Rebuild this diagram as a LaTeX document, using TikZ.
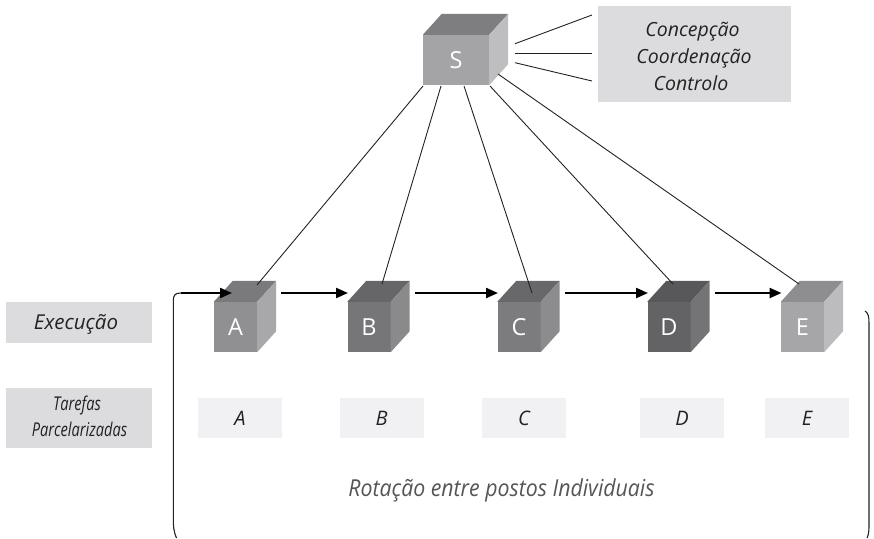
\documentclass[tikz,border=0pt]{standalone}
\usepackage{fontspec}
\setmainfont{Open Sans}
\usetikzlibrary{arrows.meta,calc}
\definecolor{boxgray}{HTML}{DCDCDE}
\definecolor{boxlight}{HTML}{F1F1F3}
\definecolor{ink}{HTML}{222222}
\definecolor{rotgray}{HTML}{555555}
\definecolor{Sf}{HTML}{A4A4A6}\definecolor{St}{HTML}{7E7E80}\definecolor{Sr}{HTML}{BEBEC0}
\definecolor{Af}{HTML}{909092}\definecolor{At}{HTML}{7A7A7C}\definecolor{Ar}{HTML}{A8A8AA}
\definecolor{Bf}{HTML}{767678}\definecolor{Bt}{HTML}{666668}\definecolor{Br}{HTML}{8A8A8C}
\definecolor{Cf}{HTML}{7C7C7E}\definecolor{Ct}{HTML}{68686A}\definecolor{Cr}{HTML}{8C8C8E}
\definecolor{Df}{HTML}{636365}\definecolor{Dt}{HTML}{58585A}\definecolor{Dr}{HTML}{747476}
\definecolor{Ef}{HTML}{A6A6A8}\definecolor{Et}{HTML}{8E8E90}\definecolor{Er}{HTML}{BCBCBE}
\newcommand\cubefaces[3]{%
  \fill[#2] (#1.north west) -- ++(19,-21) -- ($(#1.north east)+(19,-21)$) -- (#1.north east) -- cycle;
  \fill[#3] (#1.north east) -- ++(19,-21) -- ($(#1.south east)+(19,-21)$) -- (#1.south east) -- cycle;}
\begin{document}
\begin{tikzpicture}[x=1pt,y=-1pt,
  cubefront/.style={inner sep=0pt, minimum width=43pt, minimum height=50pt, text=white,
    font=\fontsize{23.5}{26}\selectfont},
  taskbox/.style={fill=boxlight, inner sep=0pt, minimum width=84pt, minimum height=40pt,
    text=ink, font=\fontsize{20}{22}\selectfont\itshape},
  labelbox/.style={fill=boxgray, inner sep=0pt},
  labeltext/.style={anchor=base, inner sep=0pt, text=ink},
  thinline/.style={draw=ink, line width=0.9pt},
  flow/.style={draw=black, line width=2.2pt, -{Triangle[length=12pt,width=10pt]}}]
\useasboundingbox (0,0) rectangle (874,538);

% label box top right
\node[labelbox, minimum width=193pt, minimum height=96pt] (ccc) at (694.5,54) {};
\begin{scope}[every node/.style={labeltext, font=\fontsize{19.5}{22}\selectfont\itshape}]
\node (t1) at (692.5,36) {Concepção};
\node (t2) at (694,63.3) {Coordenação};
\node (t3) at (691,90.7) {Controlo};
\end{scope}

% left labels
\node[labelbox, minimum width=146pt, minimum height=41pt] (exe) at (79,322.5) {};
\node[labeltext, font=\fontsize{20.5}{22}\selectfont\itshape] (exet) at (76,329.3) {Execução};
\node[labelbox, minimum width=146pt, minimum height=60pt] (tar) at (79,418) {};
\node[labeltext, font=\fontsize{19}{22}\selectfont\itshape] (tar1) at (77,410.7) {\scalebox{0.77}[1]{Tarefas}};
\node[labeltext, font=\fontsize{19}{22}\selectfont\itshape] (tar2) at (79.5,436.7) {\scalebox{0.77}[1]{Parcelarizadas}};

% cubes
\node[cubefront, fill=Sf, minimum width=66pt] (S) at (456,60) {S};
\cubefaces{S}{St}{Sr}
\node[cubefront, fill=Af] (A) at (235.5,327) {A};
\cubefaces{A}{At}{Ar}
\node[cubefront, fill=Bf] (B) at (369,327) {B};
\cubefaces{B}{Bt}{Br}
\node[cubefront, fill=Cf] (C) at (519,327) {C};
\cubefaces{C}{Ct}{Cr}
\node[cubefront, fill=Df] (D) at (669,327) {D};
\cubefaces{D}{Dt}{Dr}
\node[cubefront, fill=Ef] (E) at (802.5,327) {E};
\cubefaces{E}{Et}{Er}

% task boxes
\node[taskbox] (tA) at (240,418) {A};
\node[taskbox] (tB) at (381.5,418) {B};
\node[taskbox] (tC) at (524,418) {C};
\node[taskbox] (tD) at (682,418) {D};
\node[taskbox] (tE) at (807,418) {E};

% lines S -> box
\coordinate (s1) at (515,43.7); \coordinate (c1) at (592,15);
\coordinate (s2) at (515,53.3); \coordinate (c2) at (592,53.3);
\coordinate (s3) at (515,62.7); \coordinate (c3) at (592,81);
\draw[thinline] (s1) -- (c1);
\draw[thinline] (s2) -- (c2);
\draw[thinline] (s3) -- (c3);

% lines S -> cubes
\coordinate (sa) at (423,86); \coordinate (ea) at (257,285);
\coordinate (sb) at (441,86); \coordinate (eb) at (382,284);
\coordinate (sc) at (464,86); \coordinate (ec) at (532,293);
\coordinate (sd) at (490,86); \coordinate (ed) at (673,284);
\coordinate (se) at (498,74); \coordinate (ee) at (799,284);
\draw[thinline] (sa) -- (ea);
\draw[thinline] (sb) -- (eb);
\draw[thinline] (sc) -- (ec);
\draw[thinline] (sd) -- (ed);
\draw[thinline] (se) -- (ee);

% lines cubes -> task boxes
\draw[thinline] ($(A.south)+(-4.5,0)$) -- ($(A.south)+(-4.5,0)$ |- tA.north);
\draw[thinline] ($(B.south)+(4,0)$) -- ($(B.south)+(4,0)$ |- tB.north);
\draw[thinline] ($(C.south)+(-4,0)$) -- ($(C.south)+(-4,0)$ |- tC.north);
\draw[thinline] ($(D.south)+(4,0)$) -- ($(D.south)+(4,0)$ |- tD.north);
\draw[thinline] ($(E.south)+(-3.5,0)$) -- ($(E.south)+(-3.5,0)$ |- tE.north);

% flow arrows
\coordinate (loopStart) at (181,293);
\draw[flow] (loopStart) -- (232,293);
\draw[flow] (281,293) -- (348,293);
\draw[flow] (415,293) -- (498,293);
\draw[flow] (565,293) -- (648,293);
\draw[flow] (715,293) -- (781.5,293);

% rotation bracket
\coordinate (lb) at (176.5,538);
\coordinate (rt) at (865,311);
\coordinate (rb) at (867,538);
\draw[thinline, line width=1.1pt] (lb) .. controls (173.5,531) and (173.3,526) .. (173.3,518)
  -- (173.3,301) .. controls (173.3,295) and (175,293) .. (loopStart);
\draw[thinline, line width=1.1pt] (rt) .. controls (868,313) and (869,316) .. (869,323)
  -- (869,526) .. controls (869,531) and (868.5,535) .. (rb);

\node[anchor=base, inner sep=0pt, text=rotgray, font=\fontsize{23.4}{26}\selectfont\itshape] (rot) at (501.5,496.7)
  {\scalebox{0.91}[1]{Rotação entre postos Individuais}};
\end{tikzpicture}
\end{document}
